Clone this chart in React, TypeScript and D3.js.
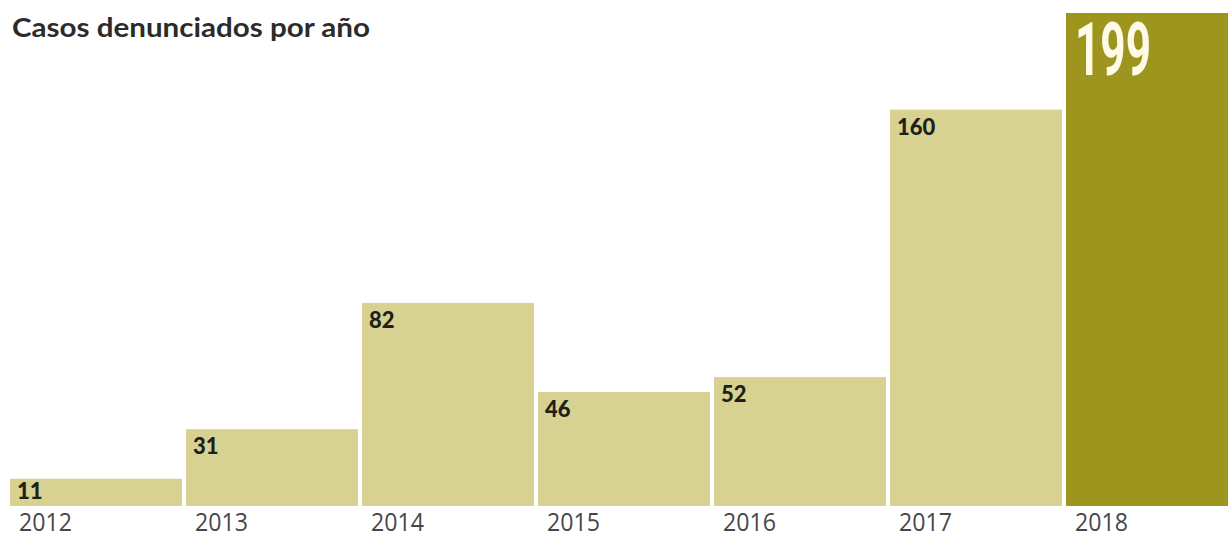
import React from "react";
import * as d3 from "d3";

const years = ["2012", "2013", "2014", "2015", "2016", "2017", "2018"];
const cases = [11, 31, 82, 46, 52, 160, 199];
const title = "Casos denunciados por año";

const W = 1228;
const H = 533;
const baseY = 506;

export default function App() {
  const x = d3
    .scaleBand<string>()
    .domain(years)
    .range([10, 10 + 7 * 176 - 4])
    .paddingInner(4 / 176)
    .paddingOuter(0);
  const y = d3.scaleLinear().domain([0, 199]).range([baseY, 13]);
  const last = years.length - 1;

  return (
    <div style={{ position: "absolute", left: 0, top: 0 }}>
      <svg width={W} height={H} style={{ display: "block", background: "#fff" }}>
        <text
          x={12}
          y={37}
          fontFamily="Lato, 'Open Sans', sans-serif"
          fontWeight={700}
          fontSize={27}
          fill="#2b2b2b"
          textLength={358}
          lengthAdjust="spacingAndGlyphs"
        >
          {title}
        </text>
        {years.map((yr, i) => {
          const bx = x(yr)!;
          const top = y(cases[i]);
          const isLast = i === last;
          return (
            <g key={yr}>
              <rect
                x={bx}
                y={top}
                width={x.bandwidth()}
                height={baseY - top}
                fill={isLast ? "#9d951d" : "#d7d192"}
              />
              {isLast ? (
                <text
                  x={bx + 9}
                  y={top + 62}
                  fontFamily="Roboto, 'DejaVu Sans Condensed', sans-serif"
                  fontWeight={700}
                  fontSize={74}
                  fill="#fffbe8"
                  textLength={76}
                  lengthAdjust="spacingAndGlyphs"
                >
                  {cases[i]}
                </text>
              ) : (
                <text
                  x={bx + 7}
                  y={Math.min(top + 25, baseY - 7)}
                  fontFamily="Lato, 'Open Sans', sans-serif"
                  fontWeight={900}
                  fontSize={22}
                  fill="#1f1f1a"
                >
                  {cases[i]}
                </text>
              )}
              <text
                x={bx + 9}
                y={531}
                fontFamily="'Open Sans', sans-serif"
                fontSize={26}
                fill="#474747"
                textLength={53}
                lengthAdjust="spacingAndGlyphs"
              >
                {yr}
              </text>
            </g>
          );
        })}
      </svg>
    </div>
  );
}
